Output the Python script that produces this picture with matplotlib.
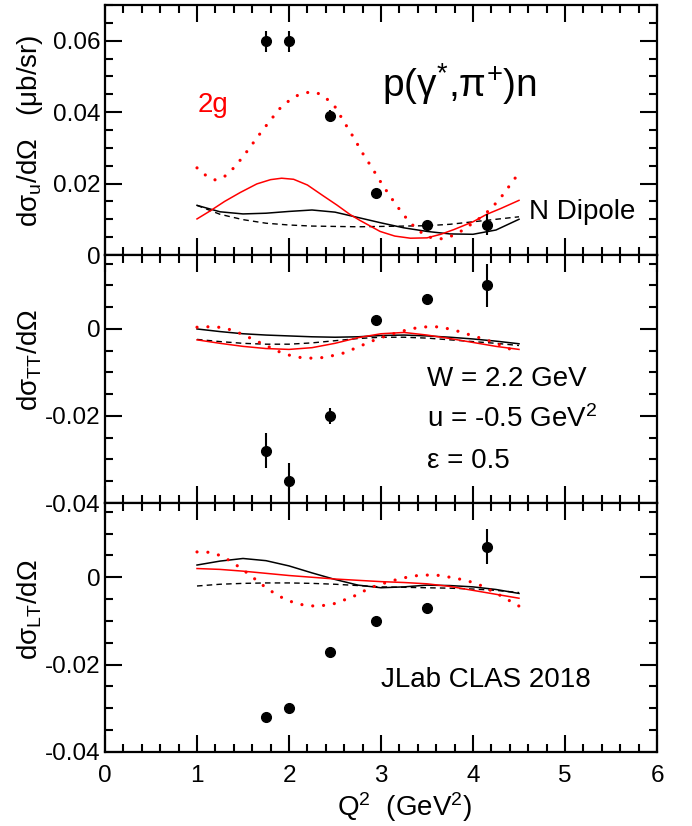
import matplotlib
matplotlib.use("Agg")
import matplotlib.pyplot as plt
from matplotlib.ticker import FixedLocator, MultipleLocator, FuncFormatter

plt.rcParams['font.family'] = ['Liberation Sans', 'DejaVu Sans']
plt.rcParams['mathtext.fontset'] = 'custom'
plt.rcParams['mathtext.rm'] = 'Liberation Sans'
plt.rcParams['mathtext.it'] = 'Liberation Sans'
plt.rcParams['mathtext.bf'] = 'Liberation Sans'
plt.rcParams['mathtext.default'] = 'regular'

# ---------------- data ----------------
q2_data = [1.75, 2.0, 2.45, 2.95, 3.5, 4.15]
sig_u = [0.0598, 0.0598, 0.0390, 0.0175, 0.0085, 0.0085]
err_u = [0.0030, 0.0030, 0.0015, 0.0010, 0.0010, 0.0030]
sig_tt = [-0.028, -0.035, -0.020, 0.002, 0.007, 0.010]
err_tt = [0.0040, 0.0042, 0.0018, 0.0010, 0.0010, 0.0050]
sig_lt = [-0.032, -0.030, -0.017, -0.010, -0.007, 0.007]
err_lt = [0.0010, 0.0010, 0.0010, 0.0010, 0.0010, 0.0040]

q2_curve = [1.0, 1.25, 1.5, 1.75, 2.0, 2.25, 2.5, 2.75, 3.0, 3.25, 3.5, 3.75, 4.0, 4.25, 4.5]
q2_dot = [1.0, 1.1, 1.2, 1.3, 1.4, 1.5, 1.6, 1.7, 1.8, 1.9, 2.0, 2.1, 2.2, 2.3, 2.4, 2.5,
          2.6, 2.7, 2.8, 2.9, 3.0, 3.1, 3.2, 3.3, 3.4, 3.5, 3.6, 3.7, 3.8, 3.9, 4.0, 4.1,
          4.2, 4.3, 4.4, 4.5]

# sigma_u panel
u_ndip = [0.0139, 0.0121, 0.0115, 0.0117, 0.0122, 0.0126, 0.0120, 0.0105, 0.0090, 0.0076,
          0.0066, 0.0059, 0.0058, 0.0070, 0.0100]
u_ndip_dash = [0.0139, 0.0114, 0.0099, 0.0089, 0.0084, 0.0081, 0.0080, 0.0079, 0.0080,
               0.0081, 0.0082, 0.0086, 0.0093, 0.0100, 0.0107]
q2_u_2g = [1.0, 1.14, 1.3, 1.47, 1.65, 1.8, 1.92, 2.05, 2.2, 2.37, 2.52, 2.66, 2.77, 2.99,
           3.15, 3.32, 3.5, 3.65, 3.79, 4.0, 4.15, 4.3, 4.5]
u_2g = [0.0101, 0.0123, 0.0150, 0.0175, 0.0199, 0.0211, 0.0215, 0.0212, 0.0196, 0.0166,
        0.0140, 0.0114, 0.0097, 0.0066, 0.0053, 0.0047, 0.0048, 0.0058, 0.0071, 0.0093,
        0.0114, 0.0130, 0.0153]
u_2g_dot = [0.0244, 0.0222, 0.0210, 0.0220, 0.0244, 0.0275, 0.0310, 0.0345, 0.0378, 0.0410,
            0.0432, 0.0448, 0.0455, 0.0455, 0.0440, 0.0415, 0.0372, 0.0330, 0.0285, 0.0245,
            0.0203, 0.0164, 0.0128, 0.0095, 0.0070, 0.0052, 0.0045, 0.0046, 0.0057, 0.0071,
            0.0090, 0.0108, 0.0131, 0.0160, 0.0195, 0.0230]

# sigma_TT panel
tt_ndip = [0.0000, -0.0006, -0.0011, -0.0014, -0.0016, -0.0018, -0.0019, -0.0018, -0.0015,
           -0.0014, -0.0016, -0.0019, -0.0023, -0.0028, -0.0034]
tt_ndip_dash = [-0.0024, -0.0029, -0.0033, -0.0035, -0.0035, -0.0032, -0.0027, -0.0022,
                -0.0019, -0.0019, -0.0021, -0.0025, -0.0029, -0.0033, -0.0038]
tt_2g = [-0.0025, -0.0033, -0.0040, -0.0045, -0.0047, -0.0043, -0.0033, -0.0020, -0.0011,
         -0.0008, -0.0014, -0.0022, -0.0031, -0.0040, -0.0047]
tt_2g_dot = [0.0004, 0.0005, 0.0005, 0.0002, -0.0004, -0.0013, -0.0023, -0.0033, -0.0043,
             -0.0053, -0.0060, -0.0065, -0.0067, -0.0067, -0.0065, -0.0060, -0.0055, -0.0046,
             -0.0037, -0.0028, -0.0020, -0.0013, -0.0007, -0.0001, 0.0003, 0.0005, 0.0005,
             0.0002, -0.0003, -0.0009, -0.0016, -0.0022, -0.0029, -0.0037, -0.0046, -0.0057]

# sigma_LT panel
lt_ndip = [0.0028, 0.0037, 0.0043, 0.0038, 0.0026, 0.0010, -0.0005, -0.0018, -0.0024,
           -0.0022, -0.0018, -0.0019, -0.0022, -0.0028, -0.0037]
lt_ndip_dash = [-0.0020, -0.0016, -0.0014, -0.0013, -0.0013, -0.0014, -0.0016, -0.0019,
                -0.0022, -0.0023, -0.0024, -0.0025, -0.0027, -0.0030, -0.0035]
lt_2g = [0.0020, 0.0018, 0.0014, 0.0009, 0.0004, 0.0000, -0.0004, -0.0007, -0.0010,
         -0.0012, -0.0015, -0.0021, -0.0030, -0.0039, -0.0048]
lt_2g_dot = [0.0058, 0.0058, 0.0054, 0.0045, 0.0032, 0.0017, 0.0001, -0.0016, -0.0031,
             -0.0044, -0.0054, -0.0061, -0.0065, -0.0066, -0.0064, -0.0060, -0.0052, -0.0044,
             -0.0033, -0.0023, -0.0016, -0.0009, -0.0004, 0.0001, 0.0004, 0.0005, 0.0005,
             0.0002, -0.0002, -0.0006, -0.0012, -0.0020, -0.0031, -0.0042, -0.0054, -0.0066]

x_ticks = [0, 1, 2, 3, 4, 5, 6]
u_ticks = [0, 0.02, 0.04, 0.06]
tt_ticks = [-0.04, -0.02, 0]
lt_ticks = [-0.04, -0.02, 0]

# ---------------- figure ----------------
W, H = 692, 826
fig = plt.figure(figsize=(W / 100, H / 100), dpi=100)
fig.patch.set_facecolor('white')


def rect(l, t, r, b):
    return [l / W, 1 - b / H, (r - l) / W, (b - t) / H]


def fx(x):
    return x / W


def fy(y):
    return 1 - y / H


ax_u = fig.add_axes(rect(105, 5, 657, 255))
ax_tt = fig.add_axes(rect(105, 255, 657, 503))
ax_lt = fig.add_axes(rect(105, 503, 657, 752))


def yfmt(v, pos):
    if abs(v) < 1e-12:
        return '0'
    return f'{v:g}'


panels = [
    (ax_u, sig_u, err_u, q2_curve, u_ndip, u_ndip_dash, q2_u_2g, u_2g, u_2g_dot,
     (0, 0.07), u_ticks),
    (ax_tt, sig_tt, err_tt, q2_curve, tt_ndip, tt_ndip_dash, q2_curve, tt_2g, tt_2g_dot,
     (-0.04, 0.017), tt_ticks),
    (ax_lt, sig_lt, err_lt, q2_curve, lt_ndip, lt_ndip_dash, q2_curve, lt_2g, lt_2g_dot,
     (-0.04, 0.017), lt_ticks),
]

for ax, sig, err, xc, nd, ndd, xg, g2, g2d, ylim, yt in panels:
    ax.plot(xc, nd, color='black', lw=1.1, zorder=3)
    ax.plot(xc, ndd, color='black', lw=1.0, linestyle=(0, (4, 3)), zorder=3)
    ax.plot(xg, g2, color='#ff0000', lw=1.1, zorder=3)
    ax.plot(q2_dot, g2d, color='#ff0000', lw=2.3, linestyle=(0, (0.01, 3.4)),
            dash_capstyle='round', zorder=3)
    ax.errorbar(q2_data, sig, yerr=err, fmt='o', color='black', ms=7, elinewidth=1.5,
                capsize=0, zorder=5)
    ax.set_xlim(0, 6)
    ax.set_ylim(*ylim)
    ax.xaxis.set_major_locator(FixedLocator(x_ticks))
    ax.xaxis.set_minor_locator(MultipleLocator(0.2))
    ax.yaxis.set_major_locator(FixedLocator(yt))
    ax.yaxis.set_minor_locator(MultipleLocator(0.005))
    ax.yaxis.set_major_formatter(FuncFormatter(yfmt))
    ax.tick_params(which='both', direction='in', top=True, right=True, width=1.5,
                   labelsize=17.5)
    ax.tick_params(which='major', length=12)
    ax.tick_params(which='minor', length=6)
    ax.tick_params(axis='y', pad=3.5)
    ax.tick_params(axis='x', pad=9)
    for s in ax.spines.values():
        s.set_linewidth(1.6)

ax_u.tick_params(labelbottom=False)
ax_tt.tick_params(labelbottom=False)

# ---------------- texts ----------------
fs = 20
fig.text(fx(382), fy(97), r'p(γ$^{*}$,π$^{+}$)n', fontsize=28, ha='left', va='baseline')
fig.text(fx(198), fy(112), '2g', fontsize=fs, color='#ff0000', ha='left', va='baseline')
fig.text(fx(529), fy(219), 'N Dipole', fontsize=fs, ha='left', va='baseline')
fig.text(fx(427), fy(386), 'W = 2.2 GeV', fontsize=fs, ha='left', va='baseline')
fig.text(fx(427), fy(427), r'u = -0.5 GeV$^{2}$', fontsize=fs, ha='left', va='baseline')
fig.text(fx(427), fy(468), 'ε = 0.5', fontsize=fs, ha='left', va='baseline')
fig.text(fx(381), fy(687), 'JLab CLAS 2018', fontsize=fs, ha='left', va='baseline')
fig.text(fx(337), fy(816), r'Q$^{2}$  (GeV$^{2}$)', fontsize=fs, ha='left', va='baseline')

fig.text(fx(30), fy(131), r'dσ$_{u}$/dΩ   (μb/sr)', fontsize=fs, rotation=90,
         ha='center', va='center')
fig.text(fx(30), fy(360), r'dσ$_{TT}$/dΩ', fontsize=fs, rotation=90,
         ha='center', va='center')
fig.text(fx(30), fy(610), r'dσ$_{LT}$/dΩ', fontsize=fs, rotation=90,
         ha='center', va='center')

fig.savefig('out.png', dpi=100, facecolor='white')
